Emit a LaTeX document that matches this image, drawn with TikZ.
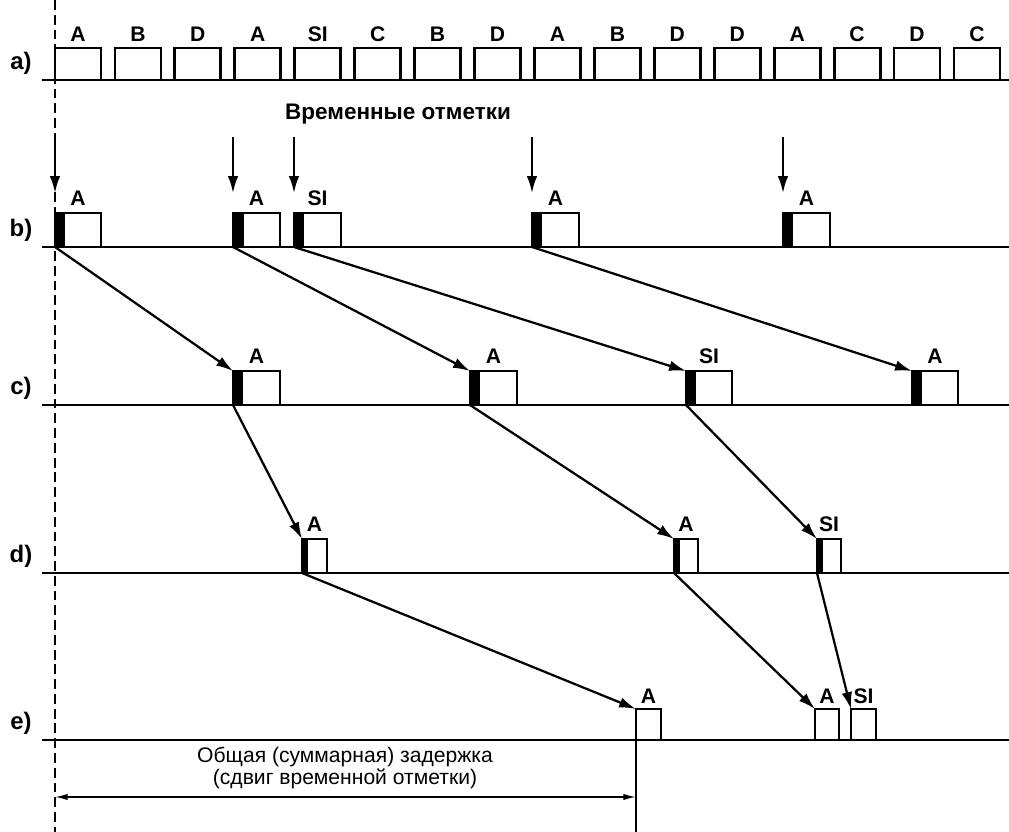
\documentclass[tikz,border=0pt]{standalone}
\usepackage{fontspec}
\setmainfont{Liberation Sans}
\usetikzlibrary{calc}
\usetikzlibrary{arrows.meta}
\tikzset{>={Latex[length=12pt,width=7.5pt]}}
\tikzset{
  pkt/.style={line width=2pt},
  base/.style={line width=1.5pt},
  lbl/.style={font=\bfseries\fontsize{15}{17}\selectfont},
  row/.style={font=\bfseries\fontsize{17}{19}\selectfont},
  hop/.style={->,line width=1.6pt},
}
% packet with timestamp bar: name, x, baseline, width, bar, label
\newcommand{\stamped}[6]{%
  \coordinate (#1) at (#2,#3);
  \coordinate (#1-top) at (#2,#3-34);
  \fill (#2,#3) rectangle ++(#5,-34);
  \draw[pkt] (#2,#3) rectangle ++(#4,-34);
  \node[lbl] at (#2+#4/2,#3-49) {#6};
}
% packet without bar: name, x, baseline, width, label
\newcommand{\plainpkt}[5]{%
  \coordinate (#1) at (#2,#3);
  \coordinate (#1-top) at (#2,#3-31);
  \draw[pkt] (#2,#3) rectangle ++(#4,-31);
  \node[lbl] at (#2+#4/2,#3-44) {#5};
}

\begin{document}
\begin{tikzpicture}[x=0.025cm,y=-0.025cm]
	\useasboundingbox (0,0) rectangle (1009,832);
	% reference time
	\draw[line width=1.4pt, dash pattern=on 7pt off 3.5pt] (55,0) -- (55,832);
	% rows
	\foreach \r/\y in {a/80,b/247,c/405,d/573,e/740} {
		\draw[base] (42,\y) -- (1009,\y);
		\node[row] at (21,\y-17) {\r)};
	}
	% a) packet stream
	\foreach \l [count=\i from 0] in {A,B,D,A,SI,C,B,D,A,B,D,D,A,C,D,C} {
		\draw[pkt] (55+59.93*\i,80) rectangle ++(46,-32);
		\node[lbl] at (78+59.93*\i,34) {\l};
	}
	\node[font=\bfseries\fontsize{16}{18}\selectfont] (marks) at (398,114) {Временные отметки};
	% b)
	\stamped{b1}{55}{247}{46}{10}{A}
	\stamped{b2}{233}{247}{47}{11}{A}
	\stamped{b3}{294}{247}{47}{10}{SI}
	\stamped{b4}{532}{247}{47}{10}{A}
	\stamped{b5}{783}{247}{47}{10}{A}
	\foreach \p/\x in {b1/55,b2/233,b3/294,b4/532,b5/783} {
		\coordinate (\p-mark) at (\x,137);
		\draw[hop] (\p-mark) -- ($(\p-top)+(0,-20)$);
	}
	% c)
	\stamped{c1}{233}{405}{47}{10}{A}
	\stamped{c2}{470}{405}{47}{10}{A}
	\stamped{c3}{686}{405}{46}{10}{SI}
	\stamped{c4}{912}{405}{46}{10}{A}
	% d)
	\stamped{d1}{302}{573}{25}{6}{A}
	\stamped{d2}{674}{573}{24}{6}{A}
	\stamped{d3}{817}{573}{24}{6}{SI}
	% e)
	\plainpkt{e1}{636}{740}{25}{A}
	\plainpkt{e2}{815}{740}{24}{A}
	\plainpkt{e3}{851}{740}{25}{SI}
	% delays
	\draw[hop] (b1) -- (c1-top);
	\draw[hop] (b2) -- (c2-top);
	\draw[hop] (b3) -- (c3-top);
	\draw[hop] (b4) -- (c4-top);
	\draw[hop] (c1) -- (d1-top);
	\draw[hop] (c2) -- (d2-top);
	\draw[hop] (c3) -- (d3-top);
	\draw[hop] (d1) -- (e1-top);
	\draw[hop] (d2) -- (e2-top);
	\draw[hop] (d3) -- (e3-top);
	% total delay
	\coordinate (dl) at (55,797);
	\coordinate (dr) at (636,797);
	\draw[line width=1.4pt] (e1) -- (636,832);
	\draw[{Latex[length=9pt,width=4.5pt]}-{Latex[length=9pt,width=4.5pt]}, line width=1.1pt] (dl) -- (dr);
	\node[font=\fontsize{15}{15.6}\selectfont, align=center] (delay) at (345,768)
		{Общая (суммарная) задержка\\(сдвиг временной отметки)};
\end{tikzpicture}
\end{document}
